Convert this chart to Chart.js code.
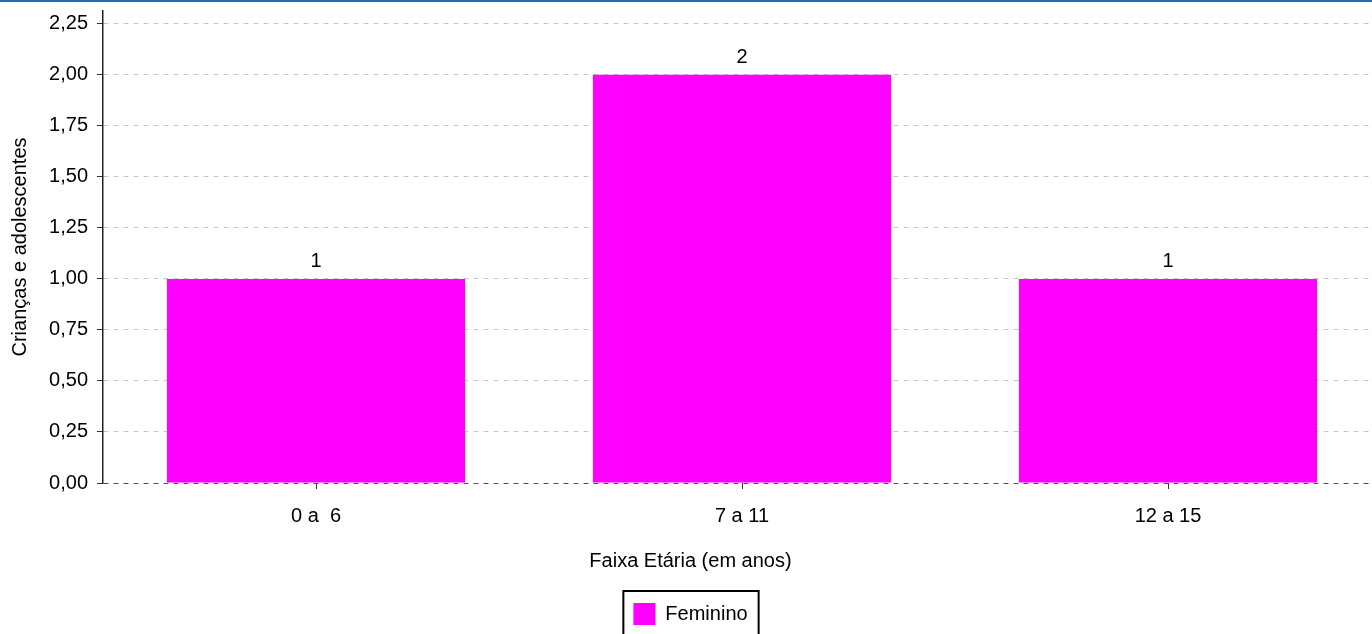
<!DOCTYPE html>
<html>
<head>
<meta charset="utf-8">
<script src="https://cdn.jsdelivr.net/npm/chart.js@4/dist/chart.umd.min.js"></script>
<style>
  html, body { margin: 0; padding: 0; background: #fff; overflow: hidden; }
  #topline { position: fixed; left: 0; top: 0; width: 100%; height: 2px; background: #1f6db2; z-index: 2; }
  #wrap { position: relative; width: 1382px; height: 635px; }
</style>
</head>
<body>
<div id="topline"></div>
<div id="wrap"><canvas id="chart" width="1382" height="635"></canvas></div>
<script>
'use strict'

const categories = ['0 a  6', '7 a 11', '12 a 15']
const feminino = [1, 2, 1]
const seriesLabel = 'Feminino'
const yTitle = 'Crianças e adolescentes'
const xTitle = 'Faixa Etária (em anos)'
const yTicks = [0, 0.25, 0.5, 0.75, 1, 1.25, 1.5, 1.75, 2, 2.25]
const yMax = 2.313

const FONT = 'Liberation Sans, Arial, sans-serif'

function commaNumber (v) {
  return v.toFixed(2).replace('.', ',')
}

// numbers above the bars
const valueLabels = {
  id: 'valueLabels',
  afterDatasetsDraw (chart) {
    const ctx = chart.ctx
    const meta = chart.getDatasetMeta(0)
    ctx.save()
    ctx.font = '20px ' + FONT
    ctx.fillStyle = '#000'
    ctx.textAlign = 'center'
    ctx.textBaseline = 'bottom'
    meta.data.forEach((bar, i) => {
      ctx.fillText(String(chart.data.datasets[0].data[i]), bar.x, bar.y - 7)
    })
    ctx.restore()
  }
}

// black frame round the legend
const legendFrame = {
  id: 'legendFrame',
  afterDraw (chart) {
    const lg = chart.legend
    if (!lg || !lg.legendHitBoxes.length) return
    const hb = lg.legendHitBoxes[0]
    const ctx = chart.ctx
    ctx.save()
    ctx.strokeStyle = '#000'
    ctx.lineWidth = 2
    ctx.strokeRect(hb.left - 10, hb.top - 12, hb.width + 21, hb.height + 24)
    ctx.restore()
  }
}

const ctx = document.getElementById('chart').getContext('2d')
const chart = new Chart(ctx, {
  type: 'bar',
  data: {
    labels: categories,
    datasets: [{
      label: seriesLabel,
      data: feminino,
      backgroundColor: '#ff00ff',
      borderWidth: 0,
      barPercentage: 0.7,
      categoryPercentage: 1.0
    }]
  },
  options: {
    responsive: false,
    animation: false,
    layout: { padding: { top: 11, right: 1, left: 0, bottom: 0 } },
    plugins: {
      tooltip: { enabled: false },
      title: {
        display: true,
        text: xTitle,
        position: 'bottom',
        weight: 500,
        color: '#000',
        font: { family: FONT, size: 20, weight: 'normal' },
        padding: { top: 6, bottom: 16 }
      },
      legend: {
        position: 'bottom',
        labels: {
          color: '#000',
          font: { family: FONT, size: 20 },
          boxWidth: 22,
          boxHeight: 22,
          padding: 14
        }
      }
    },
    scales: {
      x: {
        border: { display: false },
        grid: {
          drawOnChartArea: false,
          offset: false,
          tickLength: 6,
          tickColor: '#333'
        },
        ticks: {
          color: '#000',
          font: { family: FONT, size: 20 },
          padding: 15,
          maxRotation: 0
        }
      },
      y: {
        min: 0,
        max: yMax,
        afterBuildTicks (scale) {
          scale.ticks = yTicks.map(v => ({ value: v }))
        },
        afterFit (scale) {
          scale.width = 103
          scale.paddingTop = 0
          scale.paddingBottom = 0
        },
        border: { display: true, color: '#222', width: 1.5, dash: [5, 5] },
        grid: {
          color: c => (c.tick && c.tick.value === 0 ? '#555' : '#c8c8c8'),
          lineWidth: 1,
          tickLength: 6,
          tickColor: '#333',
          tickBorderDash: []
        },
        ticks: {
          color: '#000',
          font: { family: FONT, size: 20 },
          padding: 9,
          callback: v => commaNumber(v)
        },
        title: {
          display: true,
          text: yTitle,
          color: '#000',
          font: { family: FONT, size: 20 },
          padding: { top: 8, bottom: 8 }
        }
      }
    }
  },
  plugins: [valueLabels, legendFrame]
})
</script>
</body>
</html>
